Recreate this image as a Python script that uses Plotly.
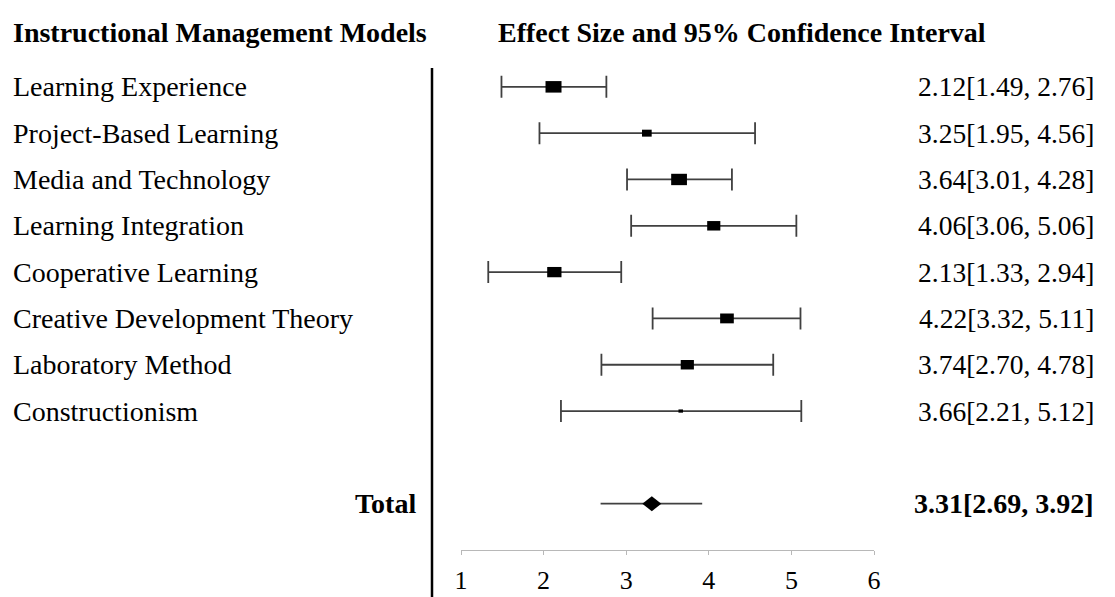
import math
import plotly.graph_objects as go

# Forest plot data: instructional management models
models = [
    "Learning Experience",
    "Project-Based Learning",
    "Media and Technology",
    "Learning Integration",
    "Cooperative Learning",
    "Creative Development Theory",
    "Laboratory Method",
    "Constructionism",
]
effect = [2.12, 3.25, 3.64, 4.06, 2.13, 4.22, 3.74, 3.66]
ci_low = [1.49, 1.95, 3.01, 3.06, 1.33, 3.32, 2.70, 2.21]
ci_high = [2.76, 4.56, 4.28, 5.06, 2.94, 5.11, 4.78, 5.12]
weights = [18.9, 6.9, 18.4, 12.8, 15.1, 13.8, 12.8, 1.5]  # study weights (%)

total_label = "Total"
total_effect = 3.31
total_low = 2.69
total_high = 3.92

x_ticks = [1, 2, 3, 4, 5, 6]

FONT = "Liberation Serif"
W, H = 1115, 597
L_MARGIN, R_MARGIN, T_MARGIN, B_MARGIN = 461, 241, 0, 47
plot_w = W - L_MARGIN - R_MARGIN


def px_to_paper_x(px):
    return (px - L_MARGIN) / plot_w


rows = list(range(len(models)))
total_row = len(models) + 1

fig = go.Figure()

# confidence intervals of the individual studies
fig.add_trace(go.Scatter(
    x=effect, y=rows, mode="markers",
    marker=dict(size=1, color="rgba(0,0,0,0)"),
    error_x=dict(type="data", symmetric=False,
                 array=[h - e for h, e in zip(ci_high, effect)],
                 arrayminus=[e - l for e, l in zip(effect, ci_low)],
                 color="#404040", thickness=1.8, width=11),
    showlegend=False, hoverinfo="skip",
))

# pooled estimate interval (no end caps)
fig.add_trace(go.Scatter(
    x=[total_effect], y=[total_row], mode="markers",
    marker=dict(size=1, color="rgba(0,0,0,0)"),
    error_x=dict(type="data", symmetric=False,
                 array=[total_high - total_effect],
                 arrayminus=[total_effect - total_low],
                 color="#404040", thickness=1.8, width=0),
    showlegend=False, hoverinfo="skip",
))

shapes = []
# weight boxes: area proportional to study weight
for r, e, w in zip(rows, effect, weights):
    bw = 3.68 * math.sqrt(w)
    bh = 0.72 * bw
    shapes.append(dict(
        type="rect", xref="x", yref="y",
        xsizemode="pixel", ysizemode="pixel",
        xanchor=e, yanchor=r,
        x0=-bw / 2, x1=bw / 2, y0=-bh / 2, y1=bh / 2,
        fillcolor="black", line=dict(width=0),
    ))

# pooled estimate diamond
shapes.append(dict(
    type="path", xref="x", yref="y",
    xsizemode="pixel", ysizemode="pixel",
    xanchor=total_effect, yanchor=total_row,
    path="M -9.5,0 L 0,7.5 L 9.5,0 L 0,-7.5 Z",
    fillcolor="black", line=dict(width=0),
))

# vertical separator between labels and plot
shapes.append(dict(
    type="line", xref="paper", yref="paper",
    x0=px_to_paper_x(432), x1=px_to_paper_x(432),
    y0=(H - B_MARGIN - 68) / (H - B_MARGIN), y1=-B_MARGIN / (H - B_MARGIN) - 0.01,
    line=dict(color="black", width=2.5),
))

annotations = []
label_x = px_to_paper_x(11)
value_x = px_to_paper_x(1096)

for r, name, e, lo, hi in zip(rows, models, effect, ci_low, ci_high):
    annotations.append(dict(
        x=label_x, xref="paper", y=r, yref="y", text=name,
        xanchor="left", yanchor="middle", showarrow=False,
        font=dict(family=FONT, size=28, color="black"),
    ))
    annotations.append(dict(
        x=value_x, xref="paper", y=r, yref="y",
        text=f"{e:.2f}[{lo:.2f}, {hi:.2f}]",
        xanchor="right", yanchor="middle", showarrow=False,
        font=dict(family=FONT, size=27.5, color="black"),
    ))

annotations.append(dict(
    x=px_to_paper_x(418), xref="paper", y=total_row, yref="y",
    text=f"<b>{total_label}</b>", xanchor="right", yanchor="middle",
    showarrow=False, font=dict(family=FONT, size=28, color="black"),
))
annotations.append(dict(
    x=value_x, xref="paper", y=total_row, yref="y",
    text=f"<b>{total_effect:.2f}[{total_low:.2f}, {total_high:.2f}]</b>",
    xanchor="right", yanchor="middle", showarrow=False,
    font=dict(family=FONT, size=28, color="black"),
))

# column headers
annotations.append(dict(
    x=label_x, xref="paper", y=-1.18, yref="y",
    text="<b>Instructional Management Models</b>",
    xanchor="left", yanchor="middle", showarrow=False,
    font=dict(family=FONT, size=28, color="black"),
))
annotations.append(dict(
    x=px_to_paper_x(496), xref="paper", y=-1.18, yref="y",
    text="<b>Effect Size and 95% Confidence Interval</b>",
    xanchor="left", yanchor="middle", showarrow=False,
    font=dict(family=FONT, size=28, color="black"),
))

fig.update_layout(
    width=W, height=H,
    margin=dict(l=L_MARGIN, r=R_MARGIN, t=T_MARGIN, b=B_MARGIN),
    paper_bgcolor="white", plot_bgcolor="white",
    shapes=shapes, annotations=annotations,
    xaxis=dict(
        range=[x_ticks[0], x_ticks[-1]], tickvals=x_ticks,
        showgrid=False, zeroline=False,
        showline=True, linecolor="#b8b8b8", linewidth=1.2,
        ticks="outside", ticklen=4, tickcolor="#b8b8b8", tickwidth=1.2,
        ticklabelstandoff=3,
        tickfont=dict(family=FONT, size=26, color="black"),
        fixedrange=True,
    ),
    yaxis=dict(
        range=[total_row + 1, -1.875], visible=False,
        showgrid=False, zeroline=False, fixedrange=True,
    ),
)

fig.write_html("out.html")
